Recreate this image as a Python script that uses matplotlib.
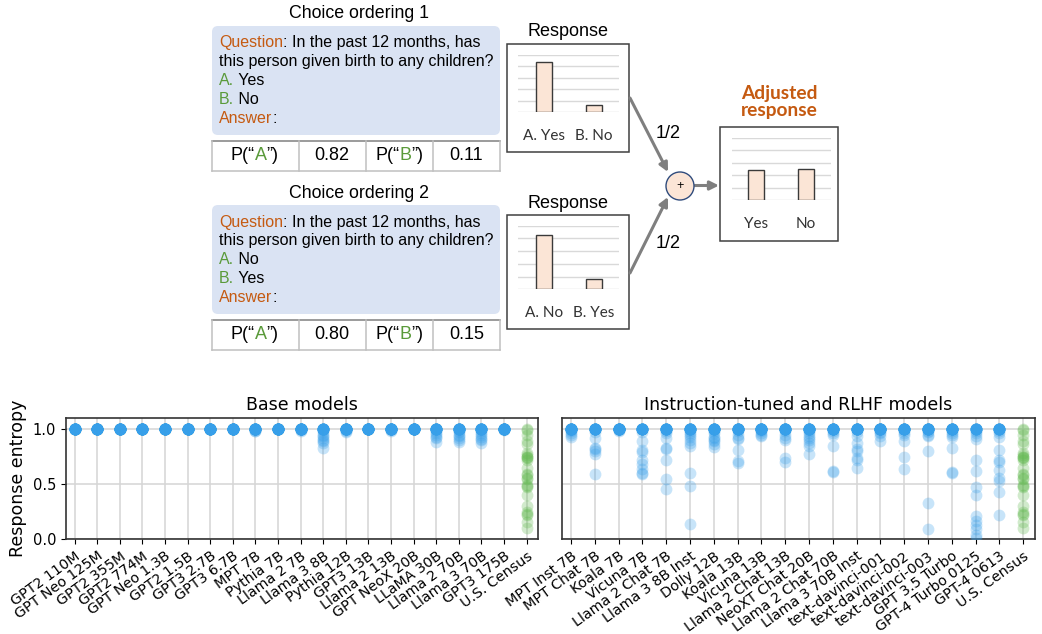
import matplotlib
matplotlib.use("Agg")
import matplotlib.pyplot as plt
import numpy as np
from matplotlib.patches import Circle, FancyBboxPatch, Rectangle


_W, _H = 1042, 634

_DIAGRAM_FONT = "Liberation Sans"
_CHART_FONT = "Lato"
_ORANGE = "#c55a11"
_GREEN = "#5a9a3a"
_BOX_FILL = "#dae3f3"
_BAR_FILL = "#fbe5d6"
_ARROW = "#7f7f7f"
_MODEL_COLOR = "#379fea"
_CENSUS_COLOR = "#5cb749"

# ---- diagram data -------------------------------------------------------
QUESTION = ["In the past 12 months, has",
            "this person given birth to any children?"]
OPTIONS_1 = ["Yes", "No"]
OPTIONS_2 = ["No", "Yes"]
PROBS_1 = [0.82, 0.11]
PROBS_2 = [0.80, 0.15]
ADJUSTED_LABELS = ["Yes", "No"]
ADJUSTED_PROBS = [0.45, 0.465]
WEIGHT_LABEL = "1/2"

# ---- entropy data -------------------------------------------------------
BASE_MODELS = ["GPT2 110M", "GPT Neo 125M", "GPT2 355M", "GPT2 774M",
               "GPT Neo 1.3B", "GPT2 1.5B", "GPT3 2.7B", "GPT3 6.7B",
               "MPT 7B", "Pythia 7B", "Llama 2 7B", "Llama 3 8B",
               "Pythia 12B", "GPT3 13B", "Llama 2 13B", "GPT NeoX 20B",
               "LLaMA 30B", "Llama 2 70B", "Llama 3 70B", "GPT3 175B",
               "U.S. Census"]

TUNED_MODELS = ["MPT Inst 7B", "MPT Chat 7B", "Koala 7B", "Vicuna 7B",
                "Llama 2 Chat 7B", "Llama 3 8B Inst", "Dolly 12B",
                "Koala 13B", "Vicuna 13B", "Llama 2 Chat 13B",
                "NeoXT Chat 20B", "Llama 2 Chat 70B", "Llama 3 70B Inst",
                "text-davinci-001", "text-davinci-002", "text-davinci-003",
                "GPT 3.5 Turbo", "GPT-4 Turbo 0125", "GPT-4 0613",
                "U.S. Census"]

CENSUS_ENTROPY = [1.0, 0.99, 0.95, 0.89, 0.86, 0.78, 0.76, 0.75, 0.75,
                  0.74, 0.72, 0.65, 0.59, 0.58, 0.56, 0.55, 0.49, 0.48,
                  0.47, 0.40, 0.30, 0.25, 0.23, 0.22, 0.16, 0.10]

BASE_ENTROPY = [
    [1.0] * 25,
    [1.0] * 25,
    [1.0] * 25,
    [1.0] * 25,
    [1.0] * 25,
    [1.0] * 25,
    [1.0] * 25,
    [1.0] * 25,
    [1.0] * 22 + [0.99, 0.98, 0.98],
    [1.0] * 25,
    [1.0] * 23 + [0.99, 0.98],
    [1.0] * 15 + [0.99, 0.97, 0.95, 0.94, 0.92, 0.90, 0.89, 0.87, 0.83],
    [1.0] * 22 + [0.99, 0.98, 0.97],
    [1.0] * 25,
    [1.0] * 23 + [0.99, 0.98],
    [1.0] * 25,
    [1.0] * 18 + [0.98, 0.96, 0.95, 0.93, 0.92, 0.88],
    [1.0] * 17 + [0.98, 0.97, 0.95, 0.94, 0.92, 0.90, 0.88],
    [1.0] * 17 + [0.98, 0.96, 0.95, 0.93, 0.91, 0.90, 0.87],
    [1.0] * 24 + [0.99],
    CENSUS_ENTROPY,
]

TUNED_ENTROPY = [
    [1.0] * 20 + [0.99, 0.98, 0.96, 0.95, 0.93],
    [1.0] * 18 + [0.97, 0.92, 0.83, 0.82, 0.80, 0.77, 0.59],
    [1.0] * 23 + [0.99, 0.98],
    [1.0] * 16 + [0.97, 0.89, 0.81, 0.79, 0.72, 0.68, 0.64, 0.60, 0.59],
    [1.0] * 17 + [0.98, 0.96, 0.92, 0.83, 0.82, 0.72, 0.55, 0.46],
    [1.0] * 15 + [0.98, 0.96, 0.95, 0.93, 0.90, 0.87, 0.85, 0.60, 0.48,
                  0.14],
    [1.0] * 17 + [0.98, 0.96, 0.93, 0.92, 0.90, 0.89, 0.86, 0.84],
    [1.0] * 18 + [0.98, 0.95, 0.92, 0.91, 0.81, 0.71, 0.69],
    [1.0] * 20 + [0.99, 0.98, 0.96, 0.95, 0.94],
    [1.0] * 19 + [0.98, 0.95, 0.92, 0.90, 0.74, 0.70],
    [1.0] * 17 + [0.98, 0.96, 0.94, 0.92, 0.90, 0.87, 0.85, 0.77],
    [1.0] * 19 + [0.98, 0.96, 0.95, 0.85, 0.62, 0.61],
    [1.0] * 18 + [0.97, 0.94, 0.87, 0.82, 0.80, 0.74, 0.72, 0.65],
    [1.0] * 20 + [0.99, 0.97, 0.96, 0.94, 0.89],
    [1.0] * 18 + [0.98, 0.96, 0.95, 0.89, 0.75, 0.64],
    [1.0] * 18 + [0.98, 0.97, 0.95, 0.94, 0.80, 0.33, 0.09],
    [1.0] * 18 + [0.98, 0.96, 0.95, 0.93, 0.83, 0.61, 0.60],
    [1.0] * 12 + [0.98, 0.96, 0.94, 0.91, 0.72, 0.62, 0.47, 0.40, 0.21,
                  0.17, 0.13, 0.09, 0.04, 0.01],
    [1.0] * 14 + [0.98, 0.96, 0.93, 0.81, 0.72, 0.70, 0.63, 0.56, 0.53,
                  0.43, 0.22],
    CENSUS_ENTROPY,
]


def _px_axes(fig, x0, y0, x1, y1):
    return fig.add_axes([x0 / _W, 1. - y1 / _H,
                         (x1 - x0) / _W, (y1 - y0) / _H])


def _width(ax, s, size, family):
    renderer = ax.figure.canvas.get_renderer()
    probe = ax.text(0, 0, s, fontsize=size, family=family)
    w = probe.get_window_extent(renderer).width
    probe.remove()
    return w


def _rich_text(ax, x, y, parts, size, ha="left", family=_DIAGRAM_FONT):
    # measuring with a trailing space (minus the space itself) gives the
    # pen position, so each piece starts where it would in the plain line
    if ha == "center":
        full = "".join(s for s, _ in parts)
        x = x - _width(ax, full, size, family) / 2
    space = _width(ax, " ", size, family)
    prefix = ""
    for s, color in parts:
        offset = (_width(ax, prefix + " ", size, family) - space
                  if prefix else 0)
        ax.text(x + offset, y, s, color=color, fontsize=size,
                family=family, va="center")
        prefix += s


def _question_block(ax, top, title, options, probs):
    ax.text(359, top - 12, title, ha="center", va="center",
            fontsize=12.8, family=_DIAGRAM_FONT)
    ax.add_patch(FancyBboxPatch((212, top), 288, 109,
                                boxstyle="round,pad=0,rounding_size=6",
                                facecolor=_BOX_FILL, edgecolor="none"))
    lines = [[("Question", _ORANGE), (": " + QUESTION[0], "black")],
             [(QUESTION[1], "black")],
             [("A.", _GREEN), (" " + options[0], "black")],
             [("B.", _GREEN), (" " + options[1], "black")],
             [("Answer", _ORANGE), (":", "black")]]
    for i, parts in enumerate(lines):
        _rich_text(ax, 219, top + 17 + i * 18.8, parts, 11.5)

    t_top, t_bot = top + 115, top + 144.5
    ax.plot([212, 500], [t_top, t_top], color="#808080", lw=1.1)
    ax.plot([212, 500], [t_bot, t_bot], color="#c0c0c0", lw=1.1)
    for x in [212, 298.5, 366, 433, 500]:
        ax.plot([x, x], [t_top, t_bot], color="#c0c0c0", lw=1.1)
    y = (t_top + t_bot) / 2
    _rich_text(ax, 255, y, [("P(“", "black"), ("A", _GREEN),
                            ("”)", "black")], 13, ha="center")
    _rich_text(ax, 399.5, y, [("P(“", "black"), ("B", _GREEN),
                              ("”)", "black")], 13, ha="center")
    ax.text(332, y, f"{probs[0]:.2f}", ha="center", va="center",
            fontsize=13, family=_DIAGRAM_FONT)
    ax.text(466.5, y, f"{probs[1]:.2f}", ha="center", va="center",
            fontsize=13, family=_DIAGRAM_FONT)


def _mini_chart(fig, overlay, box, grid_x, top_y, base_y, centers,
                labels, values):
    bx0, by0, bx1, by1 = box
    overlay.add_patch(Rectangle((bx0, by0), bx1 - bx0, by1 - by0,
                                facecolor="white", edgecolor="#404040",
                                lw=1.1))
    ax = _px_axes(fig, grid_x[0], top_y, grid_x[1], base_y)
    unit = centers[1] - centers[0]
    ax.set_xlim((grid_x[0] - centers[0]) / unit,
                1 + (grid_x[1] - centers[1]) / unit)
    ax.set_ylim(0, 0.93)
    ax.bar(range(len(values)), values, width=16 / unit,
           color=_BAR_FILL, edgecolor="#3a3a3a", lw=1.0, zorder=3)
    ax.set_yticks(np.linspace(0, 0.93, 6))
    ax.grid(axis="y", color="#d9d9d9", lw=1.0)
    ax.set_axisbelow(True)
    ax.set_xticks(range(len(labels)), labels)
    ax.tick_params(length=0, labelleft=False, pad=12, labelsize=11,
                   labelcolor="#333333")
    for lab in ax.get_xticklabels():
        lab.set_family(_CHART_FONT)
    for s in ax.spines.values():
        s.set_visible(False)
    ax.patch.set_alpha(0)


def _arrow(ax, start, end):
    ax.annotate("", xy=end, xytext=start,
                arrowprops=dict(arrowstyle="-|>", color=_ARROW, lw=2.2,
                                mutation_scale=13, shrinkA=0, shrinkB=0))


def _strip(ax, names, values, title):
    for i, vals in enumerate(values):
        color = _CENSUS_COLOR if names[i] == "U.S. Census" else _MODEL_COLOR
        ax.scatter(np.full(len(vals), i), vals, s=72, color=color,
                   alpha=0.28, linewidths=0, zorder=3)
    ax.set_xlim(-0.38, len(names) - 0.5)
    ax.set_ylim(0, 1.1)
    ax.set_yticks([0.0, 0.5, 1.0])
    ax.set_xticks(range(len(names)))
    ax.set_xticklabels(names, rotation=36, ha="right",
                       rotation_mode="anchor", fontsize=10.3)
    ax.grid(True, color="#d5d5d5", lw=1.1)
    ax.set_axisbelow(True)
    ax.tick_params(axis="y", labelsize=10.5)
    ax.set_title(title, fontsize=12.5)
    for s in ax.spines.values():
        s.set_color("#333333")
        s.set_linewidth(1.2)


fig = plt.figure(figsize=(_W / 100, _H / 100), dpi=100)

overlay = fig.add_axes([0, 0, 1, 1])
overlay.set_xlim(0, _W)
overlay.set_ylim(_H, 0)
overlay.axis("off")

_question_block(overlay, 26, "Choice ordering 1", OPTIONS_1, PROBS_1)
_question_block(overlay, 205, "Choice ordering 2", OPTIONS_2, PROBS_2)

overlay.text(568, 31, "Response", ha="center", va="center", fontsize=13,
             family=_DIAGRAM_FONT)
overlay.text(568, 203, "Response", ha="center", va="center", fontsize=13,
             family=_DIAGRAM_FONT)
overlay.text(779, 102, "Adjusted\nresponse", ha="center", va="center",
             fontsize=13.8, family=_CHART_FONT, fontweight="bold",
             color=_ORANGE, linespacing=1.05)

_mini_chart(fig, overlay, (507, 44, 629, 152), (518, 619), 55, 112,
            (544, 594), [f"A. {OPTIONS_1[0]}", f"B. {OPTIONS_1[1]}"],
            PROBS_1)
_mini_chart(fig, overlay, (507, 215, 629, 329), (518, 619), 225.7, 289.3,
            (544, 594), [f"A. {OPTIONS_2[0]}", f"B. {OPTIONS_2[1]}"],
            PROBS_2)
_mini_chart(fig, overlay, (720, 127, 838, 240.7), (731.7, 831), 137.7,
            200.3, (756, 806), ADJUSTED_LABELS, ADJUSTED_PROBS)

_arrow(overlay, (630, 98), (668, 172))
_arrow(overlay, (630, 273), (668, 197))
_arrow(overlay, (695, 185.5), (719, 185.5))
overlay.add_patch(Circle((680, 186), 14, facecolor=_BAR_FILL,
                         edgecolor="#2f4b7c", lw=1.0, zorder=4))
overlay.text(680, 186, "+", ha="center", va="center", fontsize=9,
             family=_DIAGRAM_FONT, zorder=5)
overlay.text(668, 133, WEIGHT_LABEL, ha="center", va="center",
             fontsize=13, family=_DIAGRAM_FONT)
overlay.text(668, 243, WEIGHT_LABEL, ha="center", va="center",
             fontsize=13, family=_DIAGRAM_FONT)

ax_base = _px_axes(fig, 66, 418, 538, 539.3)
ax_tuned = _px_axes(fig, 562, 418, 1035, 539.3)
_strip(ax_base, BASE_MODELS, BASE_ENTROPY, "Base models")
_strip(ax_tuned, TUNED_MODELS, TUNED_ENTROPY,
       "Instruction-tuned and RLHF models")
ax_tuned.tick_params(labelleft=False, left=False)
ax_base.set_ylabel("Response entropy", fontsize=12.5)

fig.savefig("out.png", dpi=100)
